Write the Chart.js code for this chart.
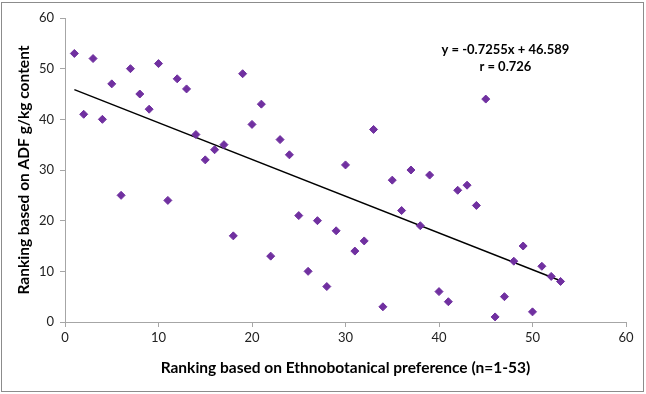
<!DOCTYPE html>
<html>
<head>
<meta charset="utf-8">
<script src="https://cdn.jsdelivr.net/npm/chart.js@4"></script>
<style>
  html, body { margin: 0; padding: 0; background: #fff; }
  #wrap { width: 646px; height: 394px; position: relative; }
</style>
</head>
<body>
<div id="wrap"><canvas id="c" width="646" height="394"></canvas></div>
<script>
// Ethnobotanical preference rank (x) vs ADF content rank (y)
const ethnoRank = [1,2,3,4,5,6,7,8,9,10,11,12,13,14,15,16,17,18,19,20,21,22,23,24,25,26,27,28,29,30,31,32,33,34,35,36,37,38,39,40,41,42,43,44,45,46,47,48,49,50,51,52,53];
const adfRank   = [53,41,52,40,47,25,50,45,42,51,24,48,46,37,32,34,35,17,49,39,43,13,36,33,21,10,20,7,18,31,14,16,38,3,28,22,30,19,29,6,4,26,27,23,44,1,5,12,15,2,11,9,8];
// Linear trendline endpoints (y = -0.7255x + 46.589 at x = 1 and x = 53)
const trendX = [1, 53];
const trendY = [45.86, 8.14];
const xTicks = [0, 10, 20, 30, 40, 50, 60];
const yTicks = [0, 10, 20, 30, 40, 50, 60];
const equationLines = ['y = -0.7255x + 46.589', 'r = 0.726'];
const xTitle = 'Ranking based on Ethnobotanical preference (n=1-53)';
const yTitle = 'Ranking based on ADF g/kg content';

const points = ethnoRank.map((x, i) => ({ x: x, y: adfRank[i] }));
const trend = trendX.map((x, i) => ({ x: x, y: trendY[i] }));

const FONT = 'Lato, "Open Sans", sans-serif';
const AXIS = '#a6a6a6';

const frame = {
  id: 'frame',
  beforeDraw(chart) {
    const ctx = chart.ctx;
    ctx.save();
    ctx.fillStyle = '#ffffff';
    ctx.fillRect(0, 0, chart.width, chart.height);
    ctx.strokeStyle = '#8c8c8c';
    ctx.lineWidth = 1;
    ctx.strokeRect(1.5, 2.5, 642, 389);
    ctx.restore();
  },
  afterDraw(chart) {
    const ctx = chart.ctx;
    const xs = chart.scales.x, ys = chart.scales.y;
    ctx.save();
    ctx.fillStyle = '#000';
    ctx.font = 'bold 13px ' + FONT;
    ctx.textAlign = 'center';
    ctx.textBaseline = 'middle';
    const cx = xs.getPixelForValue(47.1);
    ctx.fillText(equationLines[0], cx, ys.getPixelForValue(53.8));
    ctx.fillText(equationLines[1], cx, ys.getPixelForValue(50.4));
    ctx.restore();
  }
};

new Chart(document.getElementById('c'), {
  type: 'scatter',
  data: {
    datasets: [
      {
        label: 'ADF rank',
        data: points,
        pointStyle: 'rectRot',
        pointRadius: 4,
        pointBorderWidth: 1,
        backgroundColor: '#7030a0',
        borderColor: '#7030a0',
        order: 1
      },
      {
        label: 'Linear trend',
        type: 'line',
        data: trend,
        borderColor: '#000000',
        borderWidth: 1.4,
        pointRadius: 0,
        fill: false,
        order: 2
      }
    ]
  },
  options: {
    responsive: false,
    animation: false,
    devicePixelRatio: 1,
    layout: { padding: { top: 18, right: 20, left: 0, bottom: 0 } },
    plugins: { legend: { display: false }, tooltip: { enabled: false } },
    scales: {
      x: {
        type: 'linear',
        min: 0, max: 60,
        afterBuildTicks(s) { s.ticks = xTicks.map(v => ({ value: v })); },
        afterFit(s) { s.height = 72; },
        grid: { display: true, drawOnChartArea: false, drawTicks: true, tickLength: 5, color: AXIS },
        border: { display: true, color: AXIS, width: 1 },
        ticks: { color: '#222', font: { family: FONT, size: 13 }, padding: 3 },
        title: { display: true, text: xTitle, color: '#000', font: { family: FONT, size: 15.5, weight: 'bold' }, padding: { top: 0, bottom: 17 } }
      },
      y: {
        type: 'linear',
        min: 0, max: 60,
        afterBuildTicks(s) { s.ticks = yTicks.map(v => ({ value: v })); },
        afterFit(s) { s.width = 65; },
        grid: { display: true, drawOnChartArea: false, drawTicks: true, tickLength: 5, color: AXIS },
        border: { display: true, color: AXIS, width: 1 },
        ticks: { color: '#222', font: { family: FONT, size: 13 }, padding: 6 },
        title: { display: true, text: yTitle, color: '#000', font: { family: FONT, size: 15.5, weight: 'bold' }, padding: { top: 15, bottom: 0 } }
      }
    }
  },
  plugins: [frame]
});
</script>
</body>
</html>
